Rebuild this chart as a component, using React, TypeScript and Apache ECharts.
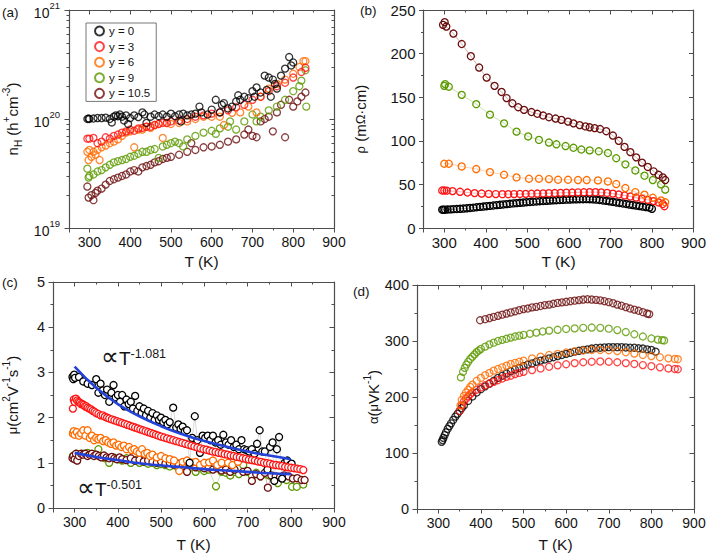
import React, { useEffect, useRef } from 'react';
import * as echarts from 'echarts';

type P = [number, number][];

// ---------- labels / categories ----------
const SERIES_NAMES = ['y = 0', 'y = 3', 'y = 6', 'y = 9', 'y = 10.5'];
const COLORS = ['#000000', '#ff1414', '#ff6c00', '#5c9a00', '#6b0d0d'];
const LOG_MAJOR_TICKS = [1e19, 1e20, 1e21];
const LOG_MINOR_TICKS = [2e19, 3e19, 4e19, 5e19, 6e19, 7e19, 8e19, 9e19, 2e20, 3e20, 4e20, 5e20, 6e20, 7e20, 8e20, 9e20];

// ---------- (a) Hall carrier concentration nH (h+ cm^-3) ----------
const nH_y0: P = [[295,1.00e20],[298,1.01e20],[300,1.0e20],[310,1.01e20],[320,1.02e20],[330,1.02e20],[340,1.03e20],[350,1.0e20],[355,0.93e20],[360,1.05e20],[365,1.08e20],[370,1.06e20],[375,1.1e20],[380,1.05e20],[385,0.97e20],[390,1.08e20],[395,0.9e20],[400,1.02e20],[410,1.08e20],[420,1.04e20],[430,1.15e20],[435,1.1e20],[440,0.92e20],[450,1.05e20],[460,1.1e20],[470,1.06e20],[480,1.1e20],[490,1.05e20],[500,1.12e20],[510,1.06e20],[520,1.1e20],[525,0.95e20],[530,1.12e20],[540,1.08e20],[550,1.1e20],[560,1.12e20],[570,1.3e20],[575,1.15e20],[590,1.1e20],[600,1.22e20],[610,1.5e20],[620,1.15e20],[625,1.35e20],[630,1.4e20],[640,1.25e20],[650,1.3e20],[660,1.45e20],[665,1.65e20],[670,1.5e20],[680,1.6e20],[690,1.55e20],[700,1.8e20],[705,1.6e20],[710,1.95e20],[720,1.75e20],[730,2.5e20],[735,1.85e20],[740,2.4e20],[745,1.6e20],[750,2.3e20],[755,2.1e20],[760,1.9e20],[770,2.5e20],[780,2.9e20],[790,3.7e20],[795,3.1e20],[800,3.3e20]];
const nH_y3: P = [[295,0.66e20],[300,0.66e20],[310,0.67e20],[320,0.6e20],[330,0.62e20],[340,0.68e20],[350,0.66e20],[360,0.7e20],[370,0.72e20],[380,0.75e20],[390,0.77e20],[400,0.8e20],[410,0.78e20],[420,0.82e20],[430,0.83e20],[440,0.85e20],[450,0.85e20],[460,0.88e20],[470,0.9e20],[480,0.92e20],[490,0.92e20],[500,0.95e20],[520,0.97e20],[540,1.0e20],[560,1.05e20],[580,1.08e20],[600,1.12e20],[620,1.15e20],[640,1.2e20],[660,1.28e20],[680,1.35e20],[700,1.5e20],[720,1.6e20],[740,1.8e20],[760,2.0e20],[780,2.15e20],[800,2.4e20],[820,2.7e20],[830,2.95e20]];
const nH_y6: P = [[295,0.5e20],[298,0.42e20],[300,0.52e20],[305,0.45e20],[310,0.5e20],[315,0.47e20],[320,0.52e20],[325,0.42e20],[330,0.55e20],[340,0.57e20],[350,0.6e20],[360,0.62e20],[370,0.65e20],[380,0.7e20],[390,0.75e20],[400,0.77e20],[410,0.55e20],[420,0.8e20],[430,0.8e20],[440,0.85e20],[450,0.83e20],[460,0.88e20],[470,0.9e20],[480,0.67e20],[490,0.92e20],[500,0.9e20],[520,0.92e20],[540,0.95e20],[560,1.0e20],[580,1.05e20],[600,1.05e20],[620,1.05e20],[630,0.88e20],[650,1.14e20],[670,1.15e20],[690,1.3e20],[710,1.15e20],[720,1.6e20],[740,1.9e20],[760,2.1e20],[780,2.3e20],[800,2.6e20],[815,3.0e20],[825,3.4e20],[830,3.4e20]];
const nH_y9: P = [[295,0.35e20],[298,0.29e20],[300,0.3e20],[310,0.31e20],[320,0.33e20],[330,0.34e20],[340,0.36e20],[350,0.38e20],[360,0.4e20],[370,0.41e20],[380,0.42e20],[390,0.43e20],[400,0.45e20],[410,0.46e20],[420,0.48e20],[430,0.5e20],[440,0.5e20],[450,0.52e20],[460,0.53e20],[470,0.44e20],[480,0.56e20],[490,0.58e20],[500,0.6e20],[510,0.62e20],[520,0.6e20],[530,0.56e20],[540,0.65e20],[560,0.7e20],[580,0.75e20],[600,0.78e20],[610,0.73e20],[620,0.82e20],[640,0.85e20],[645,0.95e20],[660,0.8e20],[680,0.95e20],[700,1.1e20],[710,0.95e20],[720,1.05e20],[740,1.2e20],[760,1.3e20],[780,1.5e20],[800,1.8e20],[815,2.0e20],[820,2.25e20],[830,2.8e20],[832,1.3e20]];
const nH_y105: P = [[295,0.24e20],[298,0.19e20],[305,0.2e20],[310,0.18e20],[315,0.21e20],[320,0.22e20],[330,0.23e20],[340,0.25e20],[350,0.27e20],[360,0.28e20],[370,0.29e20],[380,0.3e20],[390,0.31e20],[400,0.33e20],[410,0.34e20],[420,0.33e20],[430,0.36e20],[440,0.37e20],[450,0.38e20],[460,0.4e20],[470,0.41e20],[480,0.43e20],[490,0.44e20],[500,0.45e20],[520,0.47e20],[540,0.5e20],[550,0.6e20],[560,0.52e20],[580,0.55e20],[600,0.56e20],[620,0.58e20],[640,0.62e20],[660,0.65e20],[680,0.72e20],[690,0.8e20],[700,0.7e20],[710,0.68e20],[720,0.95e20],[730,1.0e20],[740,1.05e20],[750,0.77e20],[760,1.15e20],[770,1.35e20],[780,0.68e20],[790,1.5e20],[800,1.3e20],[810,1.45e20],[820,1.6e20],[830,1.75e20]];

// ---------- (b) resistivity rho (mOhm cm) ----------
const rho_y0: P = [[295,21],[298,21],[302,21],[308,21.2],[315,21.4],[322,21.6],[330,21.8],[338,22],[346,22.3],[354,22.6],[362,23],[370,23.4],[378,23.8],[386,24.2],[394,24.6],[402,25],[410,25.4],[418,25.8],[426,26.2],[434,26.6],[442,27],[450,27.4],[458,27.8],[466,28.2],[474,28.5],[482,28.9],[490,29.2],[498,29.5],[506,29.8],[514,30.1],[522,30.4],[530,30.7],[538,31],[546,31.2],[554,31.5],[562,31.7],[570,31.9],[578,32.1],[586,32.3],[594,32.5],[602,32.6],[610,32.8],[618,32.9],[626,33],[634,33],[642,33.1],[650,33],[658,32.8],[666,32.5],[674,32.1],[682,31.6],[690,31.1],[698,30.5],[706,29.9],[714,29.3],[722,28.7],[730,28.1],[738,27.5],[746,26.9],[754,26.3],[762,25.7],[770,25.1],[778,24.5],[786,24],[794,23.4],[800,22]];
const rho_y3: P = [[295,43],[300,43],[306,42.8],[320,42.3],[338,41.5],[356,40.7],[373,40],[390,39.5],[407,39.1],[424,38.9],[440,38.8],[454,38.8],[468,38.9],[482,39],[496,39.1],[510,39.3],[524,39.5],[538,39.7],[552,39.9],[566,40.1],[580,40.3],[594,40.5],[608,40.7],[622,40.9],[636,41],[650,41.1],[664,41.1],[678,40.8],[692,40.2],[706,39.4],[720,38.4],[734,37.3],[748,36.1],[762,34.9],[776,33.6],[790,32.3],[804,30.8],[816,29.3],[826,27.5],[830,25]];
const rho_y6: P = [[300,73.7],[311,73.7],[342,70.6],[377,67.6],[410,64.1],[444,61.1],[474,58],[504,56.5],[528,56.5],[552,56.1],[574,55.3],[598,55.3],[622,55],[643,55],[670,54.6],[694,53.4],[714,50.4],[736,45.8],[760,41.2],[782,38.2],[802,34.7],[822,31.7],[832,29.5]];
const rho_y9: P = [[300,163],[302,165],[311,162],[342,152.7],[377,142],[410,130],[444,120],[474,110.5],[502,105],[528,101],[552,98],[570,96],[592,94],[611,92],[630,90],[650,89],[672,88],[694,86],[714,80],[736,73],[760,66],[782,60],[802,55],[822,50],[832,44]];
const rho_y105: P = [[297,233],[301,236],[305,231],[322,223],[342,211],[364,197],[384,184],[402,172.5],[421,163],[438,156],[450,149],[464,143],[478,138.5],[492,135.5],[510,133],[524,131],[538,129],[552,127],[568,125.5],[582,124],[598,122],[611,120],[626,118],[640,116.5],[650,115.5],[662,114.5],[675,113.5],[690,111],[706,106],[720,100],[734,93],[748,87],[762,81],[776,75],[790,70],[804,65],[816,61],[826,58],[832,55]];

// ---------- (c) mobility mu (cm2 V-1 s-1) ----------
const mu_y0: P = [[295,2.9],[297,2.85],[299,2.95],[301,2.88],[310,2.9],[320,2.8],[330,2.75],[340,2.72],[350,2.85],[355,2.55],[360,2.75],[365,2.6],[370,2.5],[375,2.62],[380,2.35],[385,2.55],[390,2.72],[395,2.45],[400,2.5],[405,2.35],[410,2.5],[415,2.25],[420,2.4],[425,2.3],[430,2.35],[435,2.2],[440,2.48],[445,2.15],[450,2.25],[455,2.1],[460,2.2],[465,2.05],[470,2.15],[475,2.0],[480,2.1],[485,1.95],[490,2.05],[495,1.95],[500,2.0],[505,1.9],[510,1.95],[515,1.85],[520,1.9],[528,2.22],[535,1.78],[540,1.85],[545,1.75],[550,1.8],[555,1.7],[560,1.72],[566,1.0],[572,1.55],[578,2.03],[584,1.5],[590,1.22],[596,1.6],[602,1.55],[608,1.6],[614,1.5],[620,1.6],[626,1.45],[632,1.5],[638,1.4],[644,1.62],[650,1.45],[656,1.4],[662,1.5],[668,1.35],[674,1.4],[680,1.3],[686,1.5],[692,1.3],[698,1.28],[704,1.25],[710,1.3],[716,1.2],[722,1.42],[728,1.72],[734,1.25],[740,1.25],[746,0.85],[752,1.35],[758,1.45],[762,0.6],[768,1.3],[773,1.57],[780,0.65],[786,1.0],[792,1.05],[798,0.95],[802,0.98]];
const mu_y3: P = [[296,2.2],[298,2.4],[300,2.35],[303,2.42],[306,2.38],[309,2.35],[312,2.33],[315,2.3],[318,2.3],[321,2.28],[324,2.25],[327,2.25],[330,2.22],[334,2.2],[338,2.18],[342,2.15],[346,2.13],[350,2.1],[355,2.08],[360,2.05],[365,2.05],[370,2.02],[375,2.0],[380,1.98],[386,1.96],[392,1.94],[398,1.92],[404,1.9],[410,1.88],[416,1.86],[422,1.84],[428,1.82],[434,1.8],[440,1.78],[446,1.76],[452,1.74],[458,1.72],[464,1.7],[470,1.68],[476,1.66],[482,1.64],[488,1.62],[494,1.6],[500,1.58],[507,1.56],[514,1.54],[521,1.52],[528,1.5],[535,1.48],[542,1.46],[549,1.44],[556,1.42],[563,1.4],[570,1.38],[577,1.36],[584,1.34],[591,1.32],[598,1.3],[605,1.29],[612,1.27],[619,1.25],[626,1.24],[633,1.22],[640,1.21],[647,1.19],[654,1.18],[661,1.16],[668,1.15],[675,1.13],[682,1.12],[689,1.1],[696,1.09],[703,1.07],[710,1.06],[717,1.05],[724,1.03],[731,1.02],[738,1.0],[745,0.99],[752,0.98],[759,0.96],[766,0.95],[773,0.94],[780,0.93],[787,0.91],[794,0.9],[801,0.89],[808,0.88],[815,0.87],[822,0.86],[829,0.84]];
const mu_y6: P = [[296,1.65],[298,1.7],[300,1.62],[305,1.68],[310,1.6],[315,1.65],[320,1.72],[325,1.6],[330,1.72],[335,1.55],[340,1.6],[345,1.5],[350,1.55],[355,1.52],[360,1.55],[366,1.48],[372,1.5],[378,1.45],[384,1.42],[390,1.45],[396,1.38],[402,1.4],[408,1.35],[414,1.38],[420,1.3],[426,1.35],[432,1.28],[438,1.3],[444,1.25],[450,1.22],[456,1.3],[462,1.2],[468,1.22],[474,1.15],[480,1.18],[490,1.12],[500,1.15],[510,1.1],[520,1.08],[530,1.05],[542,0.82],[550,1.02],[560,1.05],[570,1.0],[580,1.02],[590,0.95],[600,1.0],[611,1.01],[620,1.05],[630,0.95],[640,1.0],[655,1.0],[665,0.95],[678,1.02]];
const mu_y9: P = [[296,1.15],[300,1.1],[305,1.2],[310,1.15],[320,1.2],[330,1.22],[340,1.18],[350,1.2],[355,1.3],[360,1.15],[370,1.1],[380,1.0],[390,1.12],[400,1.08],[410,1.05],[420,1.1],[430,1.0],[440,1.05],[450,1.0],[460,1.02],[470,0.98],[480,1.0],[490,0.95],[500,0.97],[510,0.95],[520,0.92],[530,0.95],[540,0.88],[550,0.9],[560,0.85],[570,0.9],[580,0.8],[590,0.88],[600,0.82],[610,0.85],[627,0.48],[640,0.8],[650,0.78],[660,0.72],[670,0.8],[680,0.75],[690,0.95],[700,0.8],[710,0.72],[720,0.78],[730,0.7],[740,0.75],[750,0.72],[760,0.65],[770,0.55],[780,0.7],[790,0.62],[803,0.47],[814,0.47],[829,0.52]];
const mu_y105: P = [[295,1.1],[297,1.15],[300,1.08],[303,1.2],[306,1.05],[310,1.15],[315,1.2],[320,1.18],[325,1.2],[330,1.15],[335,1.18],[340,1.2],[345,1.15],[350,1.18],[356,1.15],[362,1.12],[368,1.16],[374,1.12],[380,1.1],[386,1.13],[392,1.1],[398,1.08],[404,1.12],[410,1.08],[420,1.06],[430,1.1],[440,1.05],[450,1.07],[460,1.03],[470,1.05],[480,1.02],[490,1.0],[500,1.03],[510,0.98],[520,1.0],[530,0.96],[540,0.98],[550,0.93],[560,0.8],[570,0.95],[580,0.9],[590,0.92],[600,0.88],[610,0.9],[620,0.85],[630,0.88],[640,0.83],[650,0.85],[660,0.8],[670,0.85],[690,0.8],[700,0.82],[710,0.6],[720,0.75],[730,0.7],[740,0.78],[747,0.45],[755,0.72],[765,0.7],[775,0.68],[785,0.72],[795,0.7],[805,0.65],[815,0.66],[825,0.62],[832,0.62]];
const fit_1081: P = [[300,3.13],[350,2.66],[400,2.3],[450,2.03],[500,1.81],[550,1.63],[600,1.48],[650,1.36],[700,1.25],[750,1.16],[800,1.08]];
const fit_0501: P = [[300,1.22],[350,1.13],[400,1.06],[450,0.99],[500,0.94],[550,0.9],[600,0.86],[650,0.83],[700,0.8],[750,0.77],[800,0.75]];

// ---------- (d) Seebeck coefficient alpha (uV K-1) ----------
const al_y0: P = [[308,120],[310,123],[312,127],[315,132],[318,137],[322,143],[326,148],[330,153],[335,159],[340,165],[345,170],[350,175],[355,180],[360,185],[370,193],[380,201],[390,208],[400,214],[410,219],[420,224],[430,229],[440,234],[450,238],[460,242],[470,246],[480,249],[490,252],[500,255],[510,258],[520,260],[530,263],[540,265],[550,267],[560,269],[570,271],[580,273],[590,275],[600,277],[610,279],[620,281],[630,282.5],[640,284],[650,285],[660,286.5],[670,287.5],[680,288],[690,288.5],[700,289],[710,289],[720,289],[730,289],[740,288.5],[750,288],[760,288],[770,287],[780,286.5],[790,285],[800,284],[810,281]];
const al_y3: P = [[350,175],[355,185],[360,192],[365,197],[370,201],[375,205],[380,208],[390,213],[400,217],[410,221],[420,224],[430,227],[440,230],[450,233],[460,236],[470,238],[480,241],[490,243],[500,245],[520,248],[540,251],[560,254],[580,256.5],[600,258.5],[620,260.5],[640,262],[660,263],[680,263.5],[700,263],[720,262],[740,260.5],[760,259],[780,257],[800,255],[820,253],[840,251],[855,250],[862,249.5]];
const al_y6: P = [[352,185],[355,195],[360,202],[365,208],[370,213],[375,218],[380,222],[390,229],[400,234],[410,239],[420,243],[430,247],[440,250],[450,253],[460,256],[470,259],[480,261],[490,263],[500,265],[520,269],[540,272],[560,275],[580,277],[600,279.5],[620,281.5],[640,283],[660,284],[680,284],[700,283.5],[720,282],[740,280],[760,277.5],[780,275],[800,273],[820,271],[840,269],[855,268],[862,267.5]];
const al_y9: P = [[353,235],[358,245],[362,252],[366,258],[370,263],[375,268],[380,272],[385,276],[390,280],[395,283],[400,286],[410,290],[420,294],[430,297],[440,300],[450,302],[460,304],[470,306],[480,308],[490,309.5],[500,311],[515,313],[530,315],[545,317],[560,318.5],[580,320],[600,321.5],[620,322.5],[640,323.5],[660,324],[680,323.5],[700,322],[720,319.5],[740,316],[760,312],[780,308],[800,304.5],[815,302.5],[825,301.5],[830,301]];
const al_y105: P = [[398,337],[410,339],[420,341],[430,343],[440,345],[450,347],[460,349],[470,351],[480,353],[490,355],[500,357],[510,358],[520,360],[530,361],[540,362.5],[550,364],[560,365],[570,366.5],[580,368],[590,369],[600,370],[610,371],[620,372],[630,373],[640,374],[650,374.5],[660,374],[670,373.5],[680,372.5],[690,371],[700,369.5],[710,367.5],[720,365],[730,363],[740,360.5],[750,358],[760,356],[770,354],[780,351.5],[790,349],[795,348]];

const FONT = 'Arial, "Liberation Sans", Helvetica, sans-serif';
const AX = '#4d4d4d';
const TXT = '#151515';

const richTitle: any = {
  b: { fontSize: 15, fontFamily: FONT, color: TXT, lineHeight: 22, verticalAlign: 'middle' },
  g: { fontSize: 13, fontFamily: FONT, color: TXT, lineHeight: 22, verticalAlign: 'middle' },
  sup: { fontSize: 10, fontFamily: FONT, color: TXT, lineHeight: 10, verticalAlign: 'top' },
  sub: { fontSize: 10, fontFamily: FONT, color: TXT, lineHeight: 10, verticalAlign: 'bottom' },
};

function xAxesFor(grid: number, labelSize: number, nameGap: number) {
  const common: any = {
    type: 'value', gridIndex: grid, min: 250, max: 900, splitNumber: 6,
    splitLine: { show: false },
    axisLine: { show: true, onZero: false, lineStyle: { color: AX, width: 1.2 } },
    minorTick: { show: true, splitNumber: 2, length: 2.5, lineStyle: { color: AX, width: 1 } },
  };
  return [
    {
      ...common, position: 'bottom',
      axisTick: { show: true, inside: false, length: 4.5, lineStyle: { color: AX, width: 1 } },
      axisLabel: { show: true, showMinLabel: false, fontSize: labelSize, color: TXT, fontFamily: FONT, margin: 7 },
      name: 'T (K)', nameLocation: 'middle', nameGap,
      nameTextStyle: { fontSize: 15.5, color: TXT, fontFamily: FONT },
    },
    {
      ...common, position: 'top',
      axisTick: { show: true, inside: true, length: 4.5, lineStyle: { color: AX, width: 1 } },
      axisLabel: { show: false },
    },
  ];
}

function yAxesFor(grid: number, min: number, max: number, interval: number, labelSize: number, name: string, nameGap: number) {
  const common: any = {
    type: 'value', gridIndex: grid, min, max, interval,
    splitLine: { show: false },
    axisLine: { show: true, onZero: false, lineStyle: { color: AX, width: 1.2 } },
    minorTick: { show: true, splitNumber: 2, length: 2.5, lineStyle: { color: AX, width: 1 } },
  };
  return [
    {
      ...common, position: 'left',
      axisTick: { show: true, inside: false, length: 4.5, lineStyle: { color: AX, width: 1 } },
      axisLabel: { show: true, fontSize: labelSize, color: TXT, fontFamily: FONT, margin: 8 },
      name, nameLocation: 'middle', nameGap,
      nameTextStyle: { color: TXT, fontFamily: FONT, fontSize: 15, rich: richTitle },
    },
    {
      ...common, position: 'right',
      axisTick: { show: true, inside: true, length: 4.5, lineStyle: { color: AX, width: 1 } },
      axisLabel: { show: false },
    },
  ];
}

function logAxes() {
  const common: any = {
    type: 'log', logBase: 10, gridIndex: 0, min: LOG_MAJOR_TICKS[0], max: LOG_MAJOR_TICKS[2],
    splitLine: { show: false }, minorTick: { show: false },
  };
  return [
    {
      ...common, position: 'left',
      axisLine: { show: true, onZero: false, lineStyle: { color: AX, width: 1.2 } },
      axisTick: { show: true, inside: false, length: 4.5, lineStyle: { color: AX } },
      axisLabel: {
        show: true, margin: 9, color: TXT, fontFamily: FONT,
        formatter: (v: number) => `{b|10}{s|${Math.round(Math.log10(v))}}`,
        rich: {
          b: { fontSize: 14, fontFamily: FONT, color: TXT, lineHeight: 19, verticalAlign: 'bottom' },
          s: { fontSize: 9.5, fontFamily: FONT, color: TXT, lineHeight: 10, verticalAlign: 'top' },
        },
      },
      name: '{b|n}{sub|H}{b| (h}{sup|+}{b|cm}{sup|-3}{b|)}', nameLocation: 'middle', nameGap: 46,
      nameTextStyle: { color: TXT, fontFamily: FONT, fontSize: 15, rich: richTitle },
    },
    {
      ...common, position: 'right',
      axisLine: { show: true, onZero: false, lineStyle: { color: AX, width: 1.2 } },
      axisTick: { show: true, inside: true, length: 4.5, lineStyle: { color: AX } },
      axisLabel: { show: false },
    },
    {
      ...common, position: 'left',
      axisLine: { show: false },
      axisTick: { show: true, inside: false, length: 2.5, customValues: LOG_MINOR_TICKS, lineStyle: { color: AX } },
      axisLabel: { show: false },
    },
    {
      ...common, position: 'right',
      axisLine: { show: false },
      axisTick: { show: true, inside: true, length: 2.5, customValues: LOG_MINOR_TICKS, lineStyle: { color: AX } },
      axisLabel: { show: false },
    },
  ];
}

function scatterS(name: string, data: P, color: string, xi: number, yi: number, fill = 'rgba(255,255,255,0)') {
  return {
    type: 'scatter', name, data, xAxisIndex: xi, yAxisIndex: yi,
    symbol: 'circle', symbolSize: 7,
    itemStyle: { color: fill, borderColor: color, borderWidth: 1.3 },
    silent: true,
  };
}

function lineS(name: string, data: P, color: string, xi: number, yi: number, fill = 'rgba(255,255,255,0)', lineColor?: string) {
  return {
    type: 'line', name, data, xAxisIndex: xi, yAxisIndex: yi,
    symbol: 'circle', symbolSize: 7, showAllSymbol: true,
    itemStyle: { color: fill, borderColor: color, borderWidth: 1.3 },
    lineStyle: { color: lineColor || color, width: 0.7, opacity: 0.45 },
    silent: true,
  };
}

export default function App() {
  const ref = useRef<HTMLDivElement>(null);
  useEffect(() => {
    if (!ref.current) return;
    const chart = echarts.init(ref.current, undefined, { renderer: 'svg' });
    const xAxis = [
      ...xAxesFor(0, 14, 25),
      ...xAxesFor(1, 15, 25),
      ...xAxesFor(2, 14, 28),
      ...xAxesFor(3, 14, 27),
    ];
    // y axis indices: 0-3 (a), 4-5 (b), 6-7 (c), 8-9 (d)
    const yAxis = [
      ...logAxes(),
      ...yAxesFor(1, 0, 250, 50, 15, '{g|ρ}{b| (m}{g|Ω}{b|·cm)}', 52),
      ...yAxesFor(2, 0, 5, 1, 14.5, '{g|μ}{b|(cm}{sup|2}{b|V}{sup|-1}{b|s}{sup|-1}{b|)}', 30),
      ...yAxesFor(3, 0, 400, 100, 14.5, '{g|α}{b|(}{g|μ}{b|VK}{sup|-1}{b|)}', 29),
    ];
    const nH = [nH_y0, nH_y3, nH_y6, nH_y9, nH_y105];
    const rho = [rho_y0, rho_y3, rho_y6, rho_y9, rho_y105];
    const mu = [mu_y0, mu_y3, mu_y6, mu_y9, mu_y105];
    const al = [al_y0, al_y3, al_y6, al_y9, al_y105];
    const series: any[] = [];
    [4, 3, 2, 1, 0].forEach((i) => series.push(scatterS(SERIES_NAMES[i], nH[i], COLORS[i], 0, 0)));
    [0, 1, 2, 3, 4].forEach((i) => series.push(lineS('b' + i, rho[i], COLORS[i], 2, 4)));
    [3, 4, 2, 0, 1].forEach((i) => series.push(lineS('c' + i, mu[i], COLORS[i], 4, 6, '#ffffff', i === 0 ? '#888888' : COLORS[i])));
    series.push({
      type: 'line', name: 'fit1', data: fit_1081, xAxisIndex: 4, yAxisIndex: 6, smooth: true,
      symbol: 'none', lineStyle: { color: '#2443d8', width: 2.6 }, z: 5, silent: true,
    });
    series.push({
      type: 'line', name: 'fit2', data: fit_0501, xAxisIndex: 4, yAxisIndex: 6, smooth: true,
      symbol: 'none', lineStyle: { color: '#2443d8', width: 2.6 }, z: 5, silent: true,
    });
    [0, 1, 2, 3, 4].forEach((i) => series.push(scatterS('d' + i, al[i], COLORS[i], 6, 8)));

    const panelLabel = (t: string, left: number, top: number) => ({
      type: 'text', left, top, style: { text: t, fontSize: 13.5, fontFamily: FONT, fill: TXT },
    });
    const annot = (exp: string, left: number, top: number) => ({
      type: 'text', left, top, z: 10,
      style: {
        text: `{p|∝}{a|T}{s|${exp}}`,
        rich: {
          p: { fontSize: 25, fontFamily: FONT, fill: TXT, lineHeight: 21, verticalAlign: 'bottom' },
          a: { fontSize: 19, fontFamily: FONT, fill: TXT, lineHeight: 21, verticalAlign: 'bottom' },
          s: { fontSize: 12.5, fontFamily: FONT, fill: TXT, lineHeight: 12, verticalAlign: 'top' },
        },
      },
    });

    chart.setOption({
      animation: false,
      backgroundColor: '#ffffff',
      grid: [
        { left: 68.5, top: 10, width: 265.5, height: 218 },
        { left: 423.5, top: 10, width: 270.5, height: 218 },
        { left: 51, top: 282, width: 283, height: 226 },
        { left: 417, top: 285, width: 277, height: 224 },
      ],
      xAxis,
      yAxis,
      legend: {
        show: true, orient: 'vertical', left: 86, top: 23,
        data: SERIES_NAMES, itemWidth: 9, itemHeight: 9, itemGap: 3.6,
        padding: [2, 6, 2, 8], borderColor: '#777', borderWidth: 1,
        textStyle: { fontSize: 11.5, fontFamily: FONT, color: TXT },
        selectedMode: false,
      },
      series,
      graphic: [
        panelLabel('(a)', 2, 5),
        panelLabel('(b)', 360, 3),
        panelLabel('(c)', 2, 275),
        panelLabel('(d)', 353, 284),
        annot('-1.081', 101, 343),
        annot('-0.501', 77, 474),
      ],
    });
    return () => chart.dispose();
  }, []);
  return <div ref={ref} style={{ position: 'absolute', left: 0, top: 0, width: 709, height: 556 }} />;
}
